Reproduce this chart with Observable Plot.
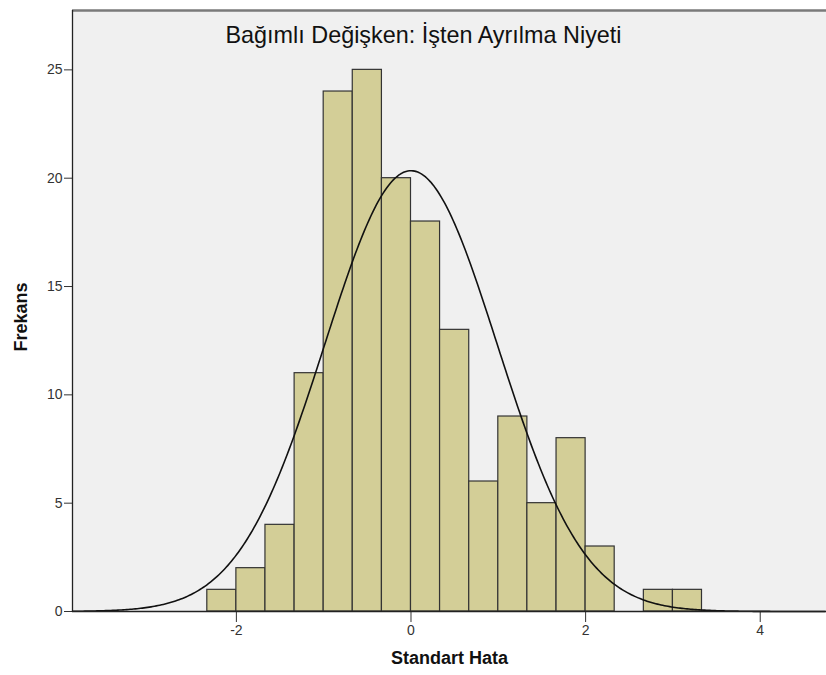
<!DOCTYPE html>
<html>
<head>
<meta charset="utf-8">
<script src="https://cdn.jsdelivr.net/npm/d3@7"></script>
<script src="https://cdn.jsdelivr.net/npm/@observablehq/plot@0.6"></script>
<style>
  html, body { margin: 0; padding: 0; background: #ffffff; }
  #chart svg { display: block; }
</style>
</head>
<body>
<div id="chart"></div>
<script>
// ---- Data ----
const binStart = [-2.333, -2, -1.667, -1.333, -1, -0.667, -0.333, 0, 0.333, 0.667, 1, 1.333, 1.667, 2, 2.667, 3];
const binEnd   = [-2, -1.667, -1.333, -1, -0.667, -0.333, 0, 0.333, 0.667, 1, 1.333, 1.667, 2, 2.333, 3, 3.333];
const counts   = [1, 2, 4, 11, 24, 25, 20, 18, 13, 6, 9, 5, 8, 3, 1, 1];

// Normal curve parameters (SPSS overlay): mean, std. deviation, N, bin width
const normalMean = 0;
const normalSd = 0.987;
const sampleN = 151;
const binWidth = 1 / 3;

const xTicks = [-2, 0, 2, 4];
const yTicks = [0, 5, 10, 15, 20, 25];

const titleText = "Bağımlı Değişken: İşten Ayrılma Niyeti";
const xLabel = "Standart Hata";
const yLabel = "Frekans";

const xDomain = [-3.877, 4.759];
const yDomain = [0, 27.74];

// ---- Build tables ----
const bins = counts.map((c, i) => ({x1: binStart[i], x2: binEnd[i], count: c}));
const curve = d3.range(xDomain[0], xDomain[1] + 0.001, 0.02).map(x => ({
  x,
  y: sampleN * binWidth * Math.exp(-0.5 * ((x - normalMean) / normalSd) ** 2) / (normalSd * Math.sqrt(2 * Math.PI))
}));

const chart = Plot.plot({
  width: 826,
  height: 675,
  marginTop: 10,
  marginLeft: 72,
  marginRight: 0,
  marginBottom: 64,
  style: {fontFamily: "'Liberation Sans', Arial, sans-serif", fontSize: "14px", color: "#333", background: "#ffffff"},
  x: {domain: xDomain, ticks: xTicks, tickSize: 11, tickPadding: 3, label: null, tickFormat: d => String(d)},
  y: {domain: yDomain, ticks: yTicks, tickSize: 8, tickPadding: 2, label: null},
  marks: [
    Plot.frame({fill: "#f0f0f0", stroke: null}),
    Plot.ruleY([yDomain[1]], {stroke: "#7a7a7a", strokeWidth: 2.5}),
    Plot.rectY(bins, {x1: "x1", x2: "x2", y: "count", fill: "#d3ce97", stroke: "#333", strokeWidth: 1.2}),
    Plot.line(curve, {x: "x", y: "y", stroke: "#111", strokeWidth: 1.6}),
    Plot.ruleX([xDomain[0]], {stroke: "#222", strokeWidth: 1.3}),
    Plot.ruleY([0], {stroke: "#222", strokeWidth: 1.3}),
    Plot.text([titleText], {text: d => d, frameAnchor: "top", dx: -26, dy: 16, fontSize: 23.4, fill: "#111"}),
    Plot.text([xLabel], {text: d => d, frameAnchor: "bottom", dy: 52, fontSize: 18, fontWeight: "bold", fill: "#111"}),
    Plot.text([yLabel], {text: d => d, frameAnchor: "left", textAnchor: "middle", dx: -51, dy: 6, rotate: -90, fontSize: 18, fontWeight: "bold", fill: "#111"})
  ]
});
document.getElementById("chart").appendChild(chart);
</script>
</body>
</html>
